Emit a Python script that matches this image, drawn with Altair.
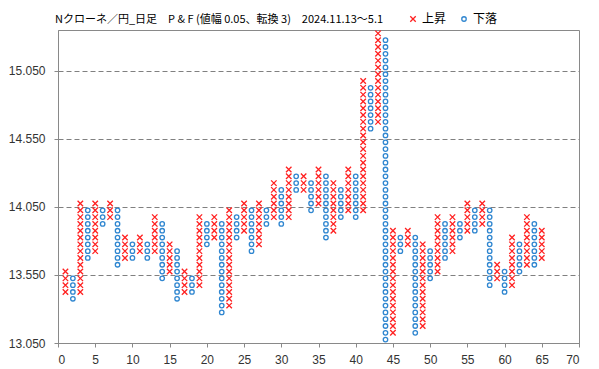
import altair as alt
import pandas as pd

BOX = 0.05
RED = "#FF2020"
BLUE = "#2F86D0"
TITLE = "Nクローネ／円_日足　P & F (値幅 0.05、転換 3)　2024.11.13～5.1"

# P&F columns (1..65), alternating X (上昇) and O (下落)
columns = list(range(1, 66))
kinds = ["X" if i % 2 == 1 else "O" for i in columns]
lows = [13.425, 13.375, 13.425, 13.675, 13.725, 13.925, 13.975, 13.625, 13.675, 13.675,
        13.725, 13.675, 13.725, 13.525, 13.575, 13.375, 13.425, 13.425, 13.475, 13.775,
        13.825, 13.275, 13.325, 13.825, 13.875, 13.725, 13.775, 13.925, 13.975, 13.925,
        13.975, 14.175, 14.175, 14.025, 14.075, 13.825, 13.875, 13.975, 14.025, 13.975,
        14.025, 14.625, 14.675, 13.075, 13.125, 13.725, 13.775, 13.125, 13.175, 13.525,
        13.575, 13.675, 13.725, 13.825, 13.875, 13.875, 13.925, 13.475, 13.525, 13.425,
        13.475, 13.575, 13.625, 13.625, 13.675]
highs = [13.575, 13.525, 14.075, 14.025, 14.075, 14.025, 14.075, 14.025, 13.825, 13.775,
         13.825, 13.775, 13.975, 13.925, 13.775, 13.725, 13.575, 13.525, 13.975, 13.925,
         13.975, 13.925, 14.025, 13.975, 14.075, 14.025, 14.075, 14.025, 14.225, 14.175,
         14.325, 14.275, 14.275, 14.225, 14.325, 14.275, 14.225, 14.175, 14.325, 14.275,
         14.975, 14.925, 15.325, 15.275, 13.875, 13.825, 13.875, 13.825, 13.775, 13.725,
         13.975, 13.925, 13.975, 13.925, 14.075, 14.025, 14.075, 14.025, 13.625, 13.575,
         13.825, 13.775, 13.975, 13.925, 13.875]

y_ticks = [13.05, 13.55, 14.05, 14.55, 15.05]
x_ticks = list(range(0, 71, 5))
legend_names = ["上昇", "下落"]

rows = []
for c, k, lo, hi in zip(columns, kinds, lows, highs):
    n = int(round((hi - lo) / BOX)) + 1
    for i in range(n):
        rows.append({"col": c, "price": round(lo + i * BOX, 3),
                     "type": "上昇" if k == "X" else "下落"})
df = pd.DataFrame(rows)

XPATH = "M-1,-1L1,1M1,-1L-1,1"

leg = alt.Legend(title=None, orient="none", legendX=349, legendY=-17,
                 direction="horizontal", labelFont="Noto Sans CJK JP",
                 labelFontSize=12, labelColor="#000", columnPadding=11,
                 symbolStrokeWidth=1.3, labelOffset=3)

points = alt.Chart(df).mark_point(filled=False, strokeWidth=1.3, opacity=1).encode(
    x=alt.X("col:Q", scale=alt.Scale(domain=[0, 70], nice=False),
            axis=alt.Axis(values=x_ticks, grid=False, title=None, tickSize=4,
                          labelPadding=7, format="d")),
    y=alt.Y("price:Q", scale=alt.Scale(domain=[13.05, 15.35], nice=False, zero=False),
            axis=alt.Axis(values=y_ticks, format=".3f", grid=True, gridDash=[5, 3],
                          gridColor="#808080", title=None, tickSize=4, labelPadding=9)),
    color=alt.Color("type:N", scale=alt.Scale(domain=legend_names, range=[RED, BLUE]), legend=leg),
    shape=alt.Shape("type:N", scale=alt.Scale(domain=legend_names, range=[XPATH, "circle"]), legend=leg),
    size=alt.Size("type:N", scale=alt.Scale(domain=legend_names, range=[30, 20]), legend=leg),
)

title = alt.Chart(pd.DataFrame({"t": [TITLE]})).mark_text(
    align="left", baseline="alphabetic", fontSize=11, font="Noto Sans CJK JP", color="#000"
).encode(x=alt.value(-3), y=alt.value(-7), text="t:N")

chart = alt.layer(points, title).properties(
    width=521, height=313,
    padding={"left": 50, "top": 22, "right": 12, "bottom": 22},
    autosize=alt.AutoSizeParams(type="none"),
    background="white",
).configure_view(stroke="#898989", strokeWidth=1).configure_axis(
    domainColor="#898989", tickColor="#898989", labelFont="Liberation Sans",
    labelFontSize=12, labelColor="#333333"
)

chart.save("out.html", embed_options={"renderer": "svg", "actions": False})
